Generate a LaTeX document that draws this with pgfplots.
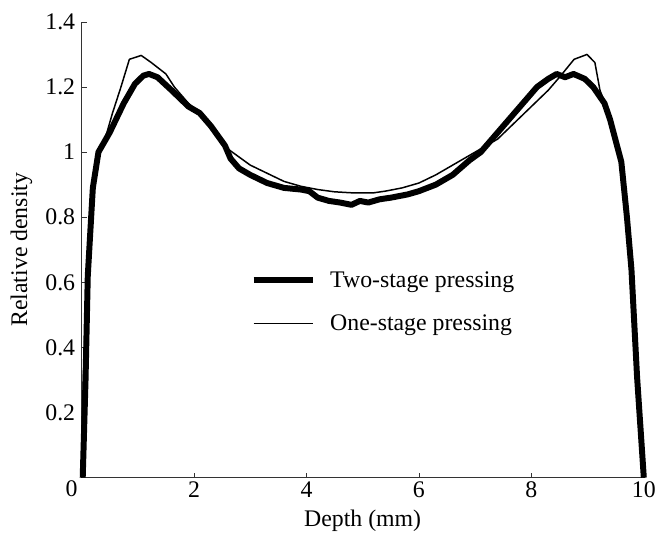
\documentclass[border=0pt]{standalone}
\usepackage{pgfplots}
\pgfplotsset{compat=1.18}
\usepackage{fontspec}
\setmainfont{Liberation Serif}
\begin{document}
\begin{tikzpicture}
\begin{axis}[
  name=ax,
  at={(0,0)}, anchor=origin,
  width=565bp, height=458bp, scale only axis,
  xmin=0, xmax=10, ymin=0, ymax=1.4,
  axis x line=bottom, axis y line=left,
  axis line style={-, line width=0.8pt, black!80},
  tick align=inside,
  major tick length=5bp,
  tick style={black!80, line width=0.6pt},
  xtick={0,2,4,6,8,10},
  xticklabels={,2,4,6,8,10},
  ytick={0,0.2,0.4,0.6,0.8,1,1.2,1.4},
  yticklabels={,0.2,0.4,0.6,0.8,1,1.2,1.4},
  /pgf/number format/assume math mode=true,
  ticklabel style={font=\fontsize{24}{28}\selectfont},
  label style={font=\fontsize{24}{28}\selectfont},
  xlabel={Depth (mm)},
  ylabel={Relative density},
  xlabel style={at={(axis description cs:0.5,0)}, anchor=north, yshift=-29bp},
  ylabel style={at={(axis description cs:0,0.5)}, anchor=south, yshift=46bp},
  xticklabel style={yshift=-1bp},
  yticklabel style={xshift=-3bp},
  clip=false,
  legend cell align=left,
  legend style={draw=none, fill=none, at={(axis cs:2.95,0.645)}, anchor=north west,
    font=\fontsize{24}{28}\selectfont, row sep=22bp,
    /tikz/every odd column/.append style={column sep=12bp}},
  legend image code/.code={\draw[#1] (0bp,0bp) -- (60bp,0bp);},
]
\addplot[black, line width=6bp, line join=round] coordinates {
(0.02,0) (0.07,0.3) (0.11,0.62) (0.2,0.89) (0.3,1.0)
(0.5,1.06) (0.75,1.15) (0.95,1.21) (1.1,1.235) (1.2,1.24) (1.35,1.23)
(1.6,1.19) (1.9,1.14) (2.1,1.12) (2.3,1.08) (2.55,1.02) (2.65,0.98)
(2.8,0.95) (3.0,0.93) (3.3,0.905) (3.6,0.89) (3.9,0.885) (4.05,0.88)
(4.2,0.86) (4.4,0.85) (4.6,0.845) (4.8,0.838) (4.95,0.85) (5.1,0.845)
(5.3,0.855) (5.5,0.86) (5.8,0.87) (6.0,0.88) (6.3,0.9) (6.6,0.93)
(6.9,0.975) (7.1,1.0) (7.3,1.04) (7.5,1.08) (7.7,1.12) (7.9,1.16)
(8.1,1.2) (8.3,1.225) (8.45,1.24) (8.6,1.23) (8.75,1.24) (8.95,1.225)
(9.1,1.2) (9.3,1.15) (9.4,1.10) (9.6,0.97) (9.7,0.80) (9.78,0.64)
(9.88,0.31) (10,0)
};
\addlegendentry{Two-stage pressing}
\addplot[black, line width=1.5bp, line join=round] coordinates {
(0,0) (0.03,0.3) (0.1,0.62) (0.2,0.87) (0.32,1.0) (0.45,1.06) (0.55,1.12)
(0.7,1.2) (0.85,1.285) (1.06,1.297) (1.24,1.275) (1.5,1.24) (1.65,1.20)
(1.9,1.15) (2.1,1.12) (2.3,1.08) (2.6,1.01) (2.8,0.985) (3.0,0.96)
(3.3,0.935) (3.6,0.91) (3.9,0.895) (4.2,0.885) (4.5,0.878) (4.8,0.875)
(5.2,0.875) (5.4,0.88) (5.7,0.89) (6.0,0.905) (6.3,0.93) (6.6,0.96)
(6.9,0.99) (7.4,1.04) (7.7,1.09) (8.0,1.14) (8.3,1.19) (8.5,1.23)
(8.76,1.285) (8.99,1.30) (9.13,1.275) (9.22,1.19) (9.4,1.11) (9.58,0.99)
(9.7,0.8) (9.78,0.62) (9.88,0.3) (10,0)
};
\addlegendentry{One-stage pressing}
\node[anchor=north east, font=\fontsize{24}{28}\selectfont, inner sep=0pt] at (axis cs:0,0) [xshift=-4bp,yshift=-3bp] {0};
\end{axis}
\path (-82bp,-61bp) rectangle (577bp,480bp);
\end{tikzpicture}
\end{document}
